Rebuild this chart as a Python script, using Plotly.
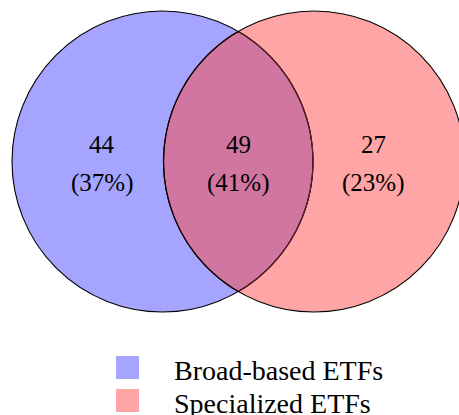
import math
import plotly.graph_objects as go

# ---- data ----
set_labels = ["Broad-based ETFs", "Specialized ETFs"]
region_names = ["Broad-based only", "Both", "Specialized only"]
region_counts = [44, 49, 27]
region_pct = [37, 41, 23]

# ---- layout / style ----
W, H = 459, 415
circle_centers = [(162.5, 161.5), (314.0, 161.5)]
radius = 150.5
set_colors = ["rgb(165,165,255)", "rgb(255,165,165)"]
overlap_color = "rgb(208,118,160)"
label_x = [102, 238, 373]
row1_y, row2_y = 144.5, 182.5
font_family = "Liberation Serif, DejaVu Serif, serif"
font_size = 25
legend_font_size = 28

fig = go.Figure()
fig.add_trace(go.Scatter(x=[0, W], y=[0, H], mode="markers",
                         marker=dict(opacity=0), hoverinfo="skip", showlegend=False))

(ax, ay), (bx, by) = circle_centers
d = bx - ax
half = d / 2
hgt = math.sqrt(radius ** 2 - half ** 2)
ang = math.atan2(hgt, half)          # half-angle of blue's arc inside red
N = 80
pts = []
# blue's right arc (inside red), from top intersection to bottom
for i in range(N + 1):
    t = -ang + 2 * ang * i / N
    pts.append((ax + radius * math.cos(t), ay + radius * math.sin(t)))
# red's left arc (inside blue), from bottom back to top
for i in range(N + 1):
    t = math.pi - ang + 2 * ang * i / N
    pts.append((bx + radius * math.cos(t), by + radius * math.sin(t)))
lens_path = "M " + " L ".join(f"{x:.2f},{y:.2f}" for x, y in pts) + " Z"

shapes = []
for (cx, cy), fc in zip(circle_centers, set_colors):
    shapes.append(dict(type="circle", xref="x", yref="y",
                       x0=cx - radius, x1=cx + radius, y0=cy - radius, y1=cy + radius,
                       fillcolor=fc, line=dict(width=0), layer="above"))
shapes.append(dict(type="path", xref="x", yref="y", path=lens_path,
                   fillcolor=overlap_color, line=dict(color="rgb(95,35,45)", width=1.1),
                   layer="above"))
# outlines: blue full (black), then re-darken inside; red full black on top
shapes.append(dict(type="circle", xref="x", yref="y",
                   x0=ax - radius, x1=ax + radius, y0=ay - radius, y1=ay + radius,
                   fillcolor="rgba(0,0,0,0)", line=dict(color="black", width=1.1), layer="above"))
shapes.append(dict(type="path", xref="x", yref="y", path=lens_path,
                   fillcolor="rgba(0,0,0,0)", line=dict(color="rgb(95,35,45)", width=1.2),
                   layer="above"))
shapes.append(dict(type="circle", xref="x", yref="y",
                   x0=bx - radius, x1=bx + radius, y0=by - radius, y1=by + radius,
                   fillcolor="rgba(0,0,0,0)", line=dict(color="black", width=1.1), layer="above"))

annotations = []
for x, c, p in zip(label_x, region_counts, region_pct):
    annotations.append(dict(x=x, y=row1_y, xref="x", yref="y", text=str(c), showarrow=False,
                            font=dict(family=font_family, size=font_size, color="black"),
                            xanchor="center", yanchor="middle"))
    annotations.append(dict(x=x, y=row2_y, xref="x", yref="y", text=f"({p}%)", showarrow=False,
                            font=dict(family=font_family, size=font_size, color="black"),
                            xanchor="center", yanchor="middle"))

# legend
swatch_y = [367.5, 400.5]
text_y = [370, 403]
for lab, col, sy, ty in zip(set_labels, set_colors, swatch_y, text_y):
    shapes.append(dict(type="rect", xref="x", yref="y", x0=116, x1=139, y0=sy - 11.5, y1=sy + 11.5,
                       fillcolor=col, line=dict(width=0), layer="above"))
    annotations.append(dict(x=172, y=ty, xref="x", yref="y", text=lab, showarrow=False,
                            font=dict(family=font_family, size=legend_font_size, color="black"),
                            xanchor="left", yanchor="middle"))

fig.update_layout(
    width=W, height=H, autosize=False,
    margin=dict(l=0, r=0, t=0, b=0),
    paper_bgcolor="white", plot_bgcolor="white",
    xaxis=dict(range=[0, W], visible=False, fixedrange=True),
    yaxis=dict(range=[H, 0], visible=False, fixedrange=True),
    shapes=shapes, annotations=annotations, showlegend=False,
)

fig.write_html("out.html", config={"displayModeBar": False},
               post_script="document.body.style.margin='0px';document.body.style.overflow='hidden';")
